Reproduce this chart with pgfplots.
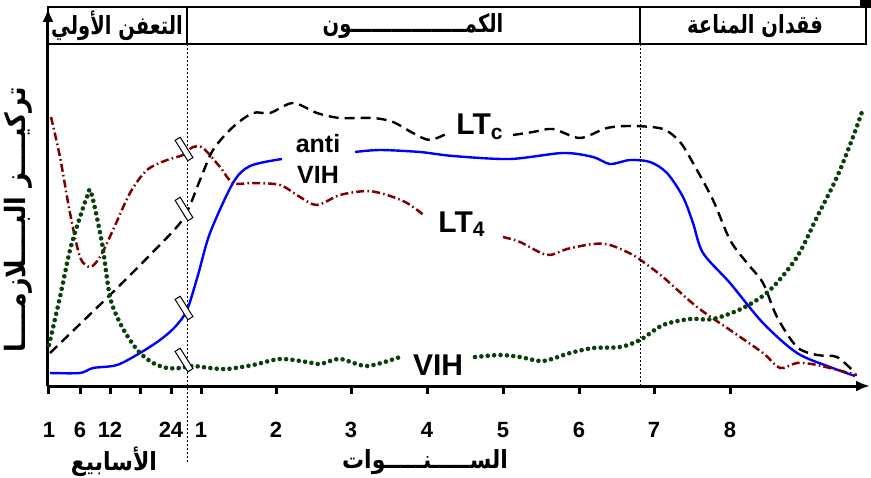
\documentclass[border=0pt]{standalone}
\usepackage{fontspec}
\setmainfont{Liberation Sans}
\newfontfamily\arabicfont[Script=Arabic]{DejaVu Sans}
\usepackage{pgfplots}
\pgfplotsset{compat=1.18}
\usetikzlibrary{arrows.meta}
\TeXXeTstate=1

\definecolor{ltc}{HTML}{000000}
\definecolor{anti}{HTML}{0000FF}
\definecolor{ltq}{HTML}{800000}
\definecolor{vih}{HTML}{0B3F0B}

\newcommand{\ar}[1]{{\arabicfont\bfseries\beginR #1\endR}}

\pgfplotsset{
  ltcstyle/.style={ltc, line width=1.2pt, dash pattern=on 5pt off 3pt, smooth},
  antistyle/.style={anti, line width=1.2pt, smooth},
  ltqstyle/.style={ltq, line width=1.25pt, dash pattern=on 4pt off 1.6pt on 0.8pt off 1.6pt, smooth},
  vihstyle/.style={vih, line width=2.3pt, line cap=round, dash pattern=on 0pt off 3.2pt, smooth},
}

\begin{document}
\begin{tikzpicture}
\begin{axis}[
  scale only axis, width=411pt, height=189pt,
  xmin=48, xmax=870, ymin=0, ymax=378,
  axis lines=left, clip=false,
  axis line style={line width=1.5pt},
  x axis line style={-{Latex[length=7pt,width=5.5pt]}},
  y axis line style={-{Latex[length=7pt,width=5.5pt]}},
  xtick={49,80,110,140,171,201,276,351,427,503,579,654,730},
  xticklabels={1,6,12,,24,1,2,3,4,5,6,7,8},
  ytick=\empty,
  tick align=outside, major tick length=4pt,
  tick style={line width=1.5pt, black},
  xticklabel style={font=\fontsize{11}{13}\selectfont\bfseries, anchor=north, yshift=-10.5pt},
]

% LTc
\addplot[ltcstyle] coordinates {
  (50,33) (110,91) (150,131) (183,167) (200,206) (213,236) (233,259)
  (253,273) (270,273) (293,283) (317,273) (340,268) (373,268) (393,264)
  (413,253) (430,246) (450,254)
};
\addplot[ltcstyle] coordinates {
  (513,251) (533,254) (553,257) (580,248) (607,258) (633,260) (663,257)
  (680,244) (693,223) (713,186) (730,146) (747,123) (763,103) (777,69)
  (797,39) (817,31) (837,29) (855,13)
};

% anti VIH
\addplot[antistyle] coordinates {
  (50,13) (80,13) (93,18) (117,21) (140,33) (160,46) (175,59) (187,76)
  (198,111) (210,153) (233,203) (250,220) (282,227)
};
\addplot[antistyle] coordinates {
  (355,234) (380,236) (420,234) (453,230) (510,227) (563,233) (593,229)
  (610,222) (630,226) (650,224) (667,213) (683,189) (693,163) (703,133)
  (730,103) (763,63) (797,33) (830,19) (855,10)
};

% LT4
\addplot[ltqstyle] coordinates {
  (51,269) (60,229) (70,173) (80,129) (90,119) (100,129) (113,156)
  (130,193) (147,216) (167,226) (183,231) (193,239) (203,238) (220,219)
  (233,203) (253,203) (280,201) (300,189) (317,181) (340,191) (367,195)
  (387,191) (407,183) (425,170)
};
\addplot[ltqstyle] coordinates {
  (503,149) (520,144) (547,131) (567,137) (593,142) (610,141) (633,131)
  (650,119) (663,109) (697,79) (730,56) (763,33) (780,18) (797,23)
  (817,21) (857,11)
};

% VIH
\addplot[vihstyle] coordinates {
  (49,41) (60,89) (70,136) (80,169) (87,189) (91,194) (102,143) (110,89)
  (120,63) (130,46) (140,33) (153,23) (167,18) (180,18) (193,20) (210,18)
  (227,17) (253,21) (280,27) (307,24) (320,22) (340,27) (367,20) (400,29)
};
\addplot[vihstyle] coordinates {
  (475,29) (500,31) (520,29) (543,25) (570,33) (593,38) (620,39) (640,46)
  (663,61) (690,67) (713,67) (743,78) (770,96) (797,129) (817,169)
  (837,209) (853,249) (863,277)
};

% header
\draw[line width=1pt] (48,379) rectangle (866,342);
\draw[line width=1pt] (187,379) -- (187,342);
\draw[line width=1pt] (640,379) -- (640,342);
\fill (860,386) rectangle (871,378);
\node at (117,360) {\scalebox{0.78}[1]{\fontsize{12.5}{14}\selectfont\ar{التعفن الأولي}}};
\node at (413,360) {\scalebox{0.78}[1]{\fontsize{12.5}{14}\selectfont\ar{الكمـــــــــــــــــون}}};
\node at (755,360) {\scalebox{0.78}[1]{\fontsize{12.5}{14}\selectfont\ar{فقدان المناعة}}};

% phase limits
\draw[line width=0.5pt, dash pattern=on 1pt off 1pt] (187,342) -- (187,-77);
\draw[line width=0.5pt, dash pattern=on 1pt off 1pt] (640,342) -- (640,0);

% axis breaks
\pgfplotsinvokeforeach{237,177,78,26}{
  \node[draw, fill=white, line width=0.5pt, minimum width=12pt, minimum height=3pt,
        inner sep=0pt, rotate=-58] at (184,#1) {};
}

% curve labels
\node[anchor=base west, inner sep=0pt] at (456,251) {\fontsize{15}{17}\selectfont\bfseries LT\textsubscript{c}};
\node[anchor=base, inner sep=0pt] at (318,234) {\fontsize{12.5}{14}\selectfont\bfseries anti};
\node[anchor=base, inner sep=0pt] at (318,203) {\fontsize{12.5}{14}\selectfont\bfseries VIH};
\node[anchor=base west, inner sep=0pt] at (438,154) {\fontsize{15}{17}\selectfont\bfseries LT\textsubscript{4}};
\node[anchor=base, inner sep=0pt] at (438,11) {\fontsize{15}{17}\selectfont\bfseries VIH};

% axis titles
\node[rotate=90] at (18,166) {\scalebox{0.9}[1]{\fontsize{14}{16}\selectfont\ar{تركيــــز البــــلازمــــا}}};
\node at (114,-76) {\scalebox{0.88}[1]{\fontsize{12.5}{14}\selectfont\ar{الأسابيع}}};
\node at (425,-76) {\scalebox{0.88}[1]{\fontsize{12.5}{14}\selectfont\ar{الســـــنـــــوات}}};

\coordinate (BL) at (0,-91);
\coordinate (TR) at (871,386);
\end{axis}
\pgfresetboundingbox
\path (BL) rectangle (TR);
\end{tikzpicture}
\end{document}
